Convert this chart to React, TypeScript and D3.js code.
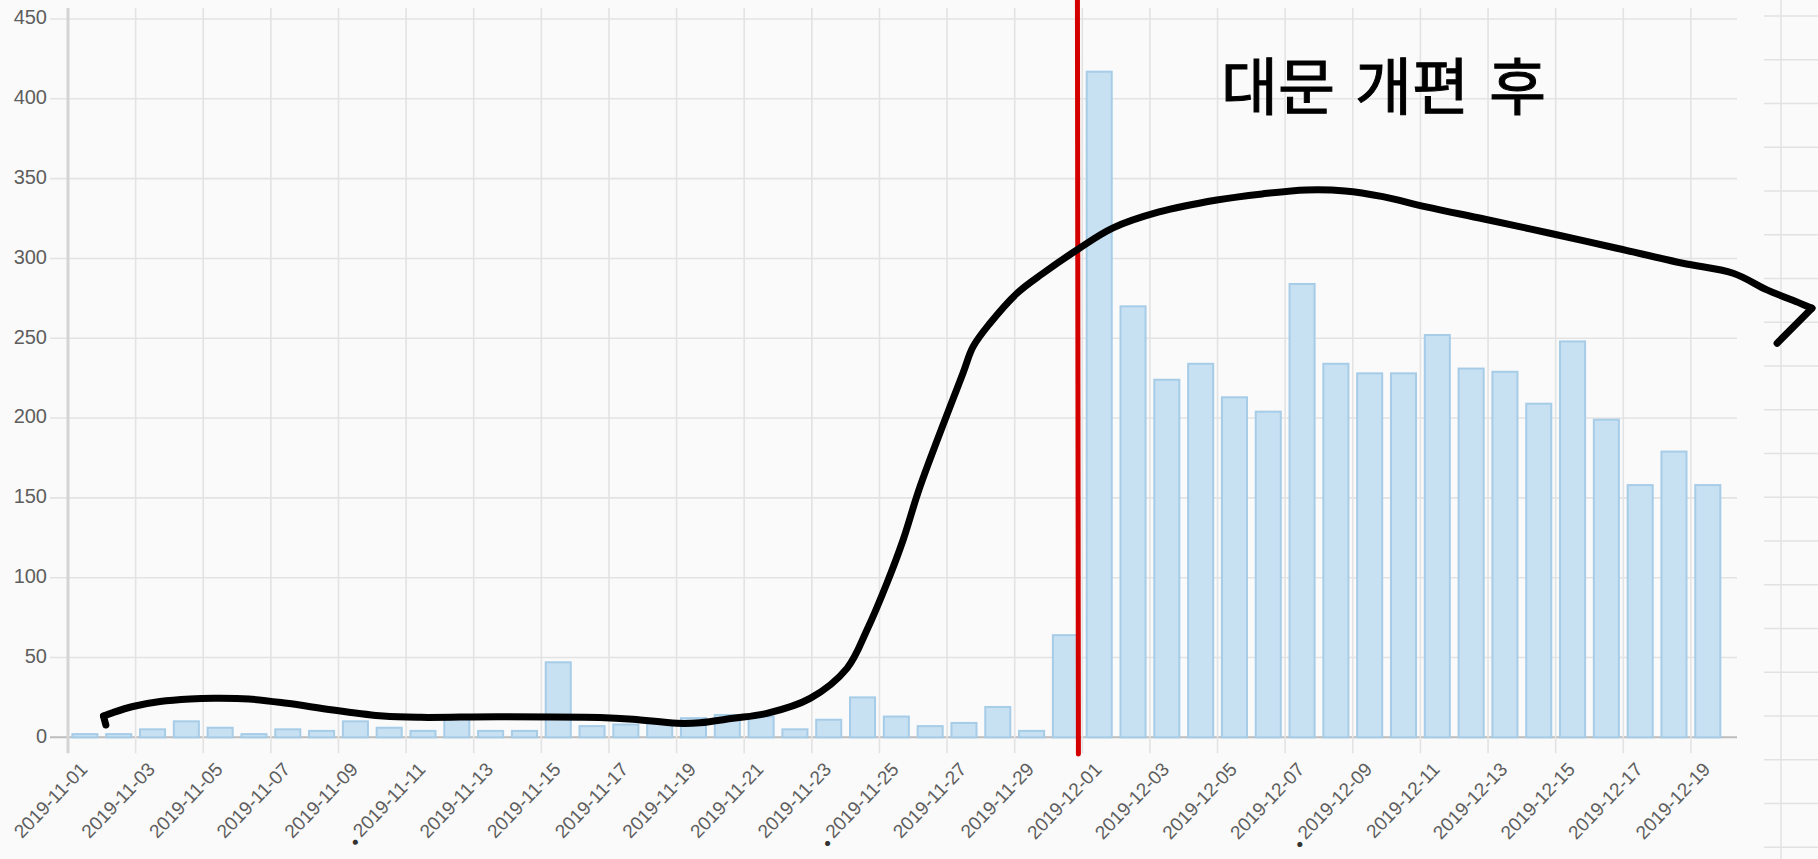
import * as React from 'react';
import * as d3 from 'd3';

// daily counts, 2019-11-01 .. 2019-12-19
const dates: string[] = [
    '2019-11-01', '2019-11-02', '2019-11-03', '2019-11-04', '2019-11-05', '2019-11-06', '2019-11-07',
    '2019-11-08', '2019-11-09', '2019-11-10', '2019-11-11', '2019-11-12', '2019-11-13', '2019-11-14',
    '2019-11-15', '2019-11-16', '2019-11-17', '2019-11-18', '2019-11-19', '2019-11-20', '2019-11-21',
    '2019-11-22', '2019-11-23', '2019-11-24', '2019-11-25', '2019-11-26', '2019-11-27', '2019-11-28',
    '2019-11-29', '2019-11-30', '2019-12-01', '2019-12-02', '2019-12-03', '2019-12-04', '2019-12-05',
    '2019-12-06', '2019-12-07', '2019-12-08', '2019-12-09', '2019-12-10', '2019-12-11', '2019-12-12',
    '2019-12-13', '2019-12-14', '2019-12-15', '2019-12-16', '2019-12-17', '2019-12-18', '2019-12-19'
];

const visits: number[] = [
    2, 2, 5, 10, 6, 2, 5, 4, 10, 6, 4, 12, 4, 4, 47, 7, 8, 10, 12, 14, 13, 5, 11, 25, 13, 7, 9, 19, 4, 64,
    417, 270, 224, 234, 213, 204, 284, 234, 228, 228, 252, 231, 229, 209, 248, 199, 158, 179, 158
];

const yTicks: number[] = [0, 50, 100, 150, 200, 250, 300, 350, 400, 450];

// labels that carry a small dot in the screenshot
const dottedLabels: string[] = ['2019-11-11', '2019-11-25', '2019-12-09'];

// red marker sits right after this day's bar
const markerAfter = '2019-11-30';
const annotationText = '대문 개편 후';

// hand-drawn trend stroke: [position in days from 11-01, value]
const trendHook: [number, number][] = [[1.12, 7.7], [1.05, 13.3]];
const trendPoints: [number, number][] = [
    [1.05, 13.3], [1.33, 15.5], [1.92, 19.3], [2.72, 22.4], [3.61, 24.0], [4.32, 24.4], [5.35, 24.0],
    [6.48, 21.3], [7.84, 17.1], [9.32, 13.3], [10.44, 12.5], [12.69, 12.9], [15.73, 12.4], [16.71, 11.3],
    [18.01, 8.8], [18.69, 9.1], [19.67, 11.9], [20.67, 15.0], [21.95, 24.4], [23.04, 43.2], [23.63, 67.2],
    [24.22, 96.5], [24.70, 123.6], [25.20, 157.0], [26.47, 228.1], [26.77, 244.7],
    [27.27, 259.4], [28.07, 278.2], [28.84, 290.7], [29.84, 305.3], [30.91, 319.1], [32.27, 329.1],
    [33.98, 336.6], [35.32, 340.4], [36.62, 342.9], [37.77, 342.3], [38.89, 338.7], [40.17, 332.3],
    [41.88, 324.7], [43.83, 315.8], [45.81, 306.4], [47.76, 297.0], [49.25, 290.7], [50.25, 280.3],
    [51.22, 272.0], [51.58, 268.8]
];
const trendTail: [number, number][] = [[51.58, 268.8], [50.55, 246.9]];

const App = () => {
    const svgRef = React.useRef<SVGSVGElement>(null);

    React.useEffect(() => {
        document.body.style.margin = '0';
        document.body.style.overflow = 'hidden';
        if (!svgRef.current) return;

        const width = 1818, height = 859;
        const left = 68, right = 1724.7, axisEnd = 1737;
        const top = 19, bottom = 737.3;
        const font = '"Liberation Sans", Arial, Helvetica, sans-serif';

        const svg = d3.select(svgRef.current);
        svg.selectAll('*').remove();

        svg.append('rect').attr('width', width).attr('height', height).attr('fill', '#fafafa');

        // spreadsheet cells peeking in on the right
        const sheet = svg.append('g').attr('stroke', '#e2e2e2').attr('stroke-width', 1.5);
        sheet.append('line').attr('x1', 1781).attr('x2', 1781).attr('y1', 0).attr('y2', height);
        sheet.selectAll('.row')
            .data(d3.range(16, height, 43.75))
            .join('line')
            .attr('x1', 1764).attr('x2', width)
            .attr('y1', d => d).attr('y2', d => d);

        const xScale = d3.scaleBand<string>()
            .domain(dates)
            .range([left, right])
            .paddingInner(0.2)
            .paddingOuter(0.1);
        const step = xScale.step();
        const dayScale = d3.scaleLinear().domain([0, dates.length]).range([left, right]);
        const yScale = d3.scaleLinear().domain([0, 450]).range([bottom, top]);

        // horizontal grid
        svg.append('g')
            .selectAll('line')
            .data(yTicks)
            .join('line')
            .attr('x1', left - 18).attr('x2', axisEnd)
            .attr('y1', d => yScale(d)).attr('y2', d => yScale(d))
            .attr('stroke', d => d === 0 ? '#bdbdbd' : '#e3e3e3')
            .attr('stroke-width', d => d === 0 ? 2 : 1.6);

        // vertical grid at every second category
        const shown = dates.filter((d, i) => i % 2 === 0);
        svg.append('g')
            .selectAll('line')
            .data(shown)
            .join('line')
            .attr('x1', d => xScale(d)! - step * 0.1)
            .attr('x2', d => xScale(d)! - step * 0.1)
            .attr('y1', 8).attr('y2', bottom + 16)
            .attr('stroke', (d, i) => i === 0 ? '#d4d4d4' : '#e3e3e3')
            .attr('stroke-width', (d, i) => i === 0 ? 3 : 1.6);

        // y labels
        svg.append('g')
            .selectAll('text')
            .data(yTicks)
            .join('text')
            .attr('x', 47).attr('y', d => yScale(d))
            .attr('text-anchor', 'end')
            .attr('dominant-baseline', 'middle')
            .attr('font-family', font).attr('font-size', 20)
            .attr('fill', '#5e5e5e')
            .text(d => d);

        // x labels
        const xl = svg.append('g')
            .selectAll('text')
            .data(shown)
            .join('text')
            .attr('transform', d => `translate(${xScale(d)! + xScale.bandwidth() / 2},767) rotate(-46)`)
            .attr('text-anchor', 'end')
            .attr('dominant-baseline', 'middle')
            .attr('font-family', font).attr('font-size', 19)
            .attr('fill', '#5e5e5e');
        xl.filter(d => dottedLabels.includes(d))
            .append('tspan').attr('fill', '#333').attr('font-size', 12).attr('dy', 4).text('● ');
        xl.append('tspan')
            .attr('dy', d => dottedLabels.includes(d) ? -4 : 0)
            .text(d => d);

        // bars
        svg.append('g')
            .selectAll('rect')
            .data(visits)
            .join('rect')
            .attr('x', (d, i) => xScale(dates[i])! + 1)
            .attr('y', d => yScale(d))
            .attr('width', xScale.bandwidth() - 2)
            .attr('height', d => bottom - yScale(d))
            .attr('fill', '#c8e1f2')
            .attr('stroke', '#a6cce7')
            .attr('stroke-width', 2);

        // red divider
        const mx = xScale(markerAfter)! + xScale.bandwidth() - 1.5;
        svg.append('line')
            .attr('x1', mx).attr('x2', mx + 1)
            .attr('y1', -5).attr('y2', 754)
            .attr('stroke', '#d40000').attr('stroke-width', 5)
            .attr('stroke-linecap', 'round');

        // hand-drawn trend
        const line = d3.line<[number, number]>()
            .x(d => dayScale(d[0]))
            .y(d => yScale(d[1]));
        const pen = { fill: 'none', stroke: '#000', 'stroke-width': 7, 'stroke-linecap': 'round', 'stroke-linejoin': 'round' };
        [
            line.curve(d3.curveLinear)(trendHook),
            line.curve(d3.curveCatmullRom.alpha(0.5))(trendPoints),
            line.curve(d3.curveLinear)(trendTail)
        ].forEach(p => {
            const path = svg.append('path').attr('d', p);
            Object.entries(pen).forEach(([k, v]) => path.attr(k, v));
        });

        // handwritten note
        svg.append('text')
            .attr('x', 1221).attr('y', 110)
            .attr('font-family', '"Noto Sans CJK KR", sans-serif')
            .attr('font-size', 62)
            .attr('word-spacing', 6)
            .attr('fill', '#000')
            .attr('stroke', '#000').attr('stroke-width', 1)
            .text(annotationText);
    }, []);

    return <svg ref={svgRef} width={1818} height={859} style={{ display: 'block', position: 'absolute', left: 0, top: 0 }} />;
};

export default App;
